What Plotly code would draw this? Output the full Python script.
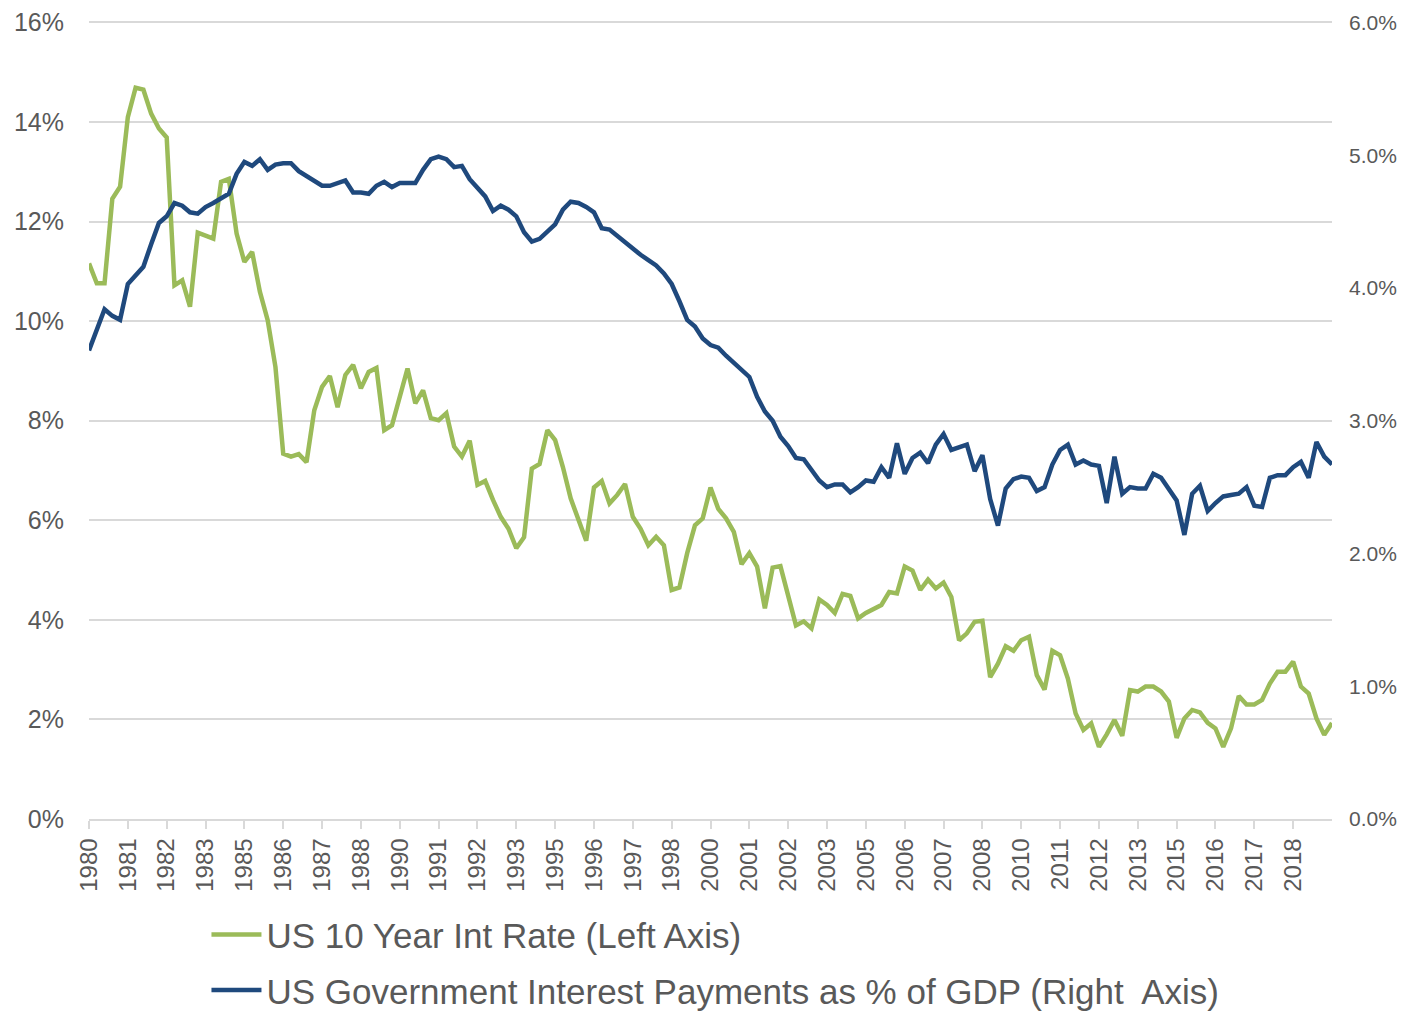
import plotly.graph_objects as go

us_10y_rate = [
    11.16, 10.76, 10.76, 12.46, 12.70, 14.10, 14.69, 14.65, 14.17, 13.87,
    13.69, 10.72, 10.82, 10.29, 11.78, 11.73, 11.66, 12.80, 12.86, 11.76,
    11.19, 11.39, 10.59, 10.02, 9.08, 7.34, 7.28, 7.33, 7.17, 8.21,
    8.68, 8.90, 8.27, 8.92, 9.12, 8.65, 8.98, 9.06, 7.81, 7.91,
    8.50, 9.05, 8.35, 8.61, 8.05, 8.01, 8.15, 7.48, 7.28, 7.60,
    6.71, 6.79, 6.41, 6.07, 5.83, 5.44, 5.66, 7.04, 7.13, 7.81,
    7.61, 7.07, 6.44, 6.00, 5.59, 6.66, 6.79, 6.34, 6.51, 6.73,
    6.07, 5.83, 5.50, 5.67, 5.50, 4.60, 4.65, 5.34, 5.90, 6.04,
    6.66, 6.23, 6.04, 5.77, 5.12, 5.34, 5.07, 4.23, 5.05, 5.08,
    4.48, 3.89, 3.97, 3.83, 4.41, 4.30, 4.14, 4.52, 4.48, 4.03,
    4.14, 4.22, 4.30, 4.56, 4.53, 5.07, 4.99, 4.60, 4.81, 4.63,
    4.75, 4.46, 3.59, 3.73, 3.96, 3.98, 2.85, 3.12, 3.47, 3.38,
    3.59, 3.66, 2.89, 2.60, 3.38, 3.29, 2.82, 2.12, 1.79, 1.92,
    1.45, 1.70, 1.99, 1.67, 2.59, 2.56, 2.66, 2.66, 2.56, 2.36,
    1.63, 2.02, 2.19, 2.14, 1.93, 1.82, 1.45, 1.82, 2.47, 2.30,
    2.30, 2.39, 2.72, 2.96, 2.96, 3.16, 2.66, 2.52, 2.02, 1.69,
    1.93,
]

us_interest_pct_gdp = [
    3.53, 3.68, 3.84, 3.79, 3.76, 4.03, 4.10, 4.16, 4.33, 4.49,
    4.54, 4.64, 4.62, 4.57, 4.56, 4.61, 4.64, 4.68, 4.71, 4.86,
    4.95, 4.92, 4.97, 4.89, 4.93, 4.94, 4.94, 4.88, 4.84, 4.81,
    4.77, 4.77, 4.79, 4.81, 4.72, 4.72, 4.71, 4.77, 4.80, 4.76,
    4.79, 4.79, 4.79, 4.89, 4.97, 4.99, 4.97, 4.91, 4.92, 4.82,
    4.76, 4.69, 4.58, 4.62, 4.59, 4.54, 4.42, 4.35, 4.37, 4.42,
    4.48, 4.59, 4.65, 4.64, 4.61, 4.57, 4.45, 4.44, 4.39, 4.34,
    4.29, 4.25, 4.21, 4.17, 4.11, 4.03, 3.90, 3.76, 3.71, 3.62,
    3.57, 3.55, 3.49, 3.44, 3.39, 3.33, 3.18, 3.07, 3.00, 2.88,
    2.81, 2.72, 2.71, 2.63, 2.55, 2.50, 2.52, 2.52, 2.46, 2.50,
    2.55, 2.54, 2.65, 2.57, 2.83, 2.60, 2.72, 2.76, 2.68, 2.82,
    2.90, 2.78, 2.80, 2.82, 2.62, 2.74, 2.41, 2.21, 2.49, 2.56,
    2.58, 2.57, 2.47, 2.50, 2.67, 2.78, 2.82, 2.67, 2.70, 2.67,
    2.66, 2.38, 2.73, 2.45, 2.50, 2.49, 2.49, 2.60, 2.57, 2.48,
    2.40, 2.14, 2.45, 2.51, 2.32, 2.38, 2.43, 2.44, 2.45, 2.50,
    2.36, 2.35, 2.57, 2.59, 2.59, 2.65, 2.69, 2.57, 2.84, 2.73,
    2.67,
]

year_labels = [
    "1980", "1981", "1982", "1983", "1985", "1986", "1987", "1988",
    "1990", "1991", "1992", "1993", "1995", "1996", "1997", "1998",
    "2000", "2001", "2002", "2003", "2005", "2006", "2007", "2008",
    "2010", "2011", "2012", "2013", "2015", "2016", "2017", "2018",
]
label_every = 5  # one label every five quarters

left_ticks = [0, 2, 4, 6, 8, 10, 12, 14, 16]
right_ticks = [0, 1, 2, 3, 4, 5, 6]

# ---- figure ----
quarters = list(range(len(us_10y_rate)))
GREEN = "#9BBB59"
NAVY = "#1F497D"
GREY_TXT = "#595959"
GRID = "#D9D9D9"
FONT = "Arial, Liberation Sans, sans-serif"

# a tiny head-room so the 16% gridline is not dropped at the range edge
headroom = 1.003125
left_range = [0, left_ticks[-1] * headroom]
right_range = [0, right_ticks[-1] * headroom]

fig = go.Figure()
fig.add_trace(go.Scatter(
    x=quarters, y=us_10y_rate, mode="lines",
    name="US 10 Year Int Rate (Left Axis)",
    line=dict(color=GREEN, width=4.5), yaxis="y", legendgroup="a",
))
fig.add_trace(go.Scatter(
    x=quarters, y=us_interest_pct_gdp, mode="lines",
    name="US Government Interest Payments as % of GDP (Right  Axis)",
    line=dict(color=NAVY, width=4.5), yaxis="y2", legendgroup="b",
))

# the page body adds an 8 px margin, so the figure is 8 px smaller
fig.update_layout(
    width=1399, height=1003,
    margin=dict(l=81, r=75, t=12, b=192, autoexpand=False),
    paper_bgcolor="white", plot_bgcolor="white",
    font=dict(family=FONT, color=GREY_TXT),
    showlegend=True,
    legend=dict(
        orientation="v", x=0.0945, xanchor="left", y=-0.108, yanchor="top",
        font=dict(size=35, color=GREY_TXT, family=FONT),
        bgcolor="rgba(0,0,0,0)", tracegroupgap=7, itemwidth=50,
    ),
    xaxis=dict(
        range=[0, len(us_10y_rate) - 1],
        tickmode="array",
        tickvals=[label_every * k for k in range(len(year_labels))],
        ticktext=year_labels,
        tickangle=-90,
        tickfont=dict(size=24, color=GREY_TXT),
        showgrid=False, zeroline=False,
        showline=True, linecolor=GRID, linewidth=1.5,
        ticks="outside", ticklen=8, tickcolor=GRID, tickwidth=1.5,
        ticklabelstandoff=0,
    ),
    yaxis=dict(
        range=left_range, tickmode="array", tickvals=left_ticks,
        ticktext=[f"{v}%" for v in left_ticks],
        tickfont=dict(size=25, color=GREY_TXT),
        showgrid=True, gridcolor=GRID, gridwidth=1.5,
        zeroline=False, showline=False, ticks="",
        ticklabelstandoff=24, ticklabeloverflow="allow",
    ),
    yaxis2=dict(
        range=right_range, overlaying="y", side="right",
        tickmode="array", tickvals=right_ticks,
        ticktext=[f"{v:.1f}%" for v in right_ticks],
        tickfont=dict(size=21, color=GREY_TXT),
        showgrid=False, zeroline=False, showline=False, ticks="",
        ticklabelstandoff=16, ticklabeloverflow="allow",
    ),
)

fig.write_html("out.html")
